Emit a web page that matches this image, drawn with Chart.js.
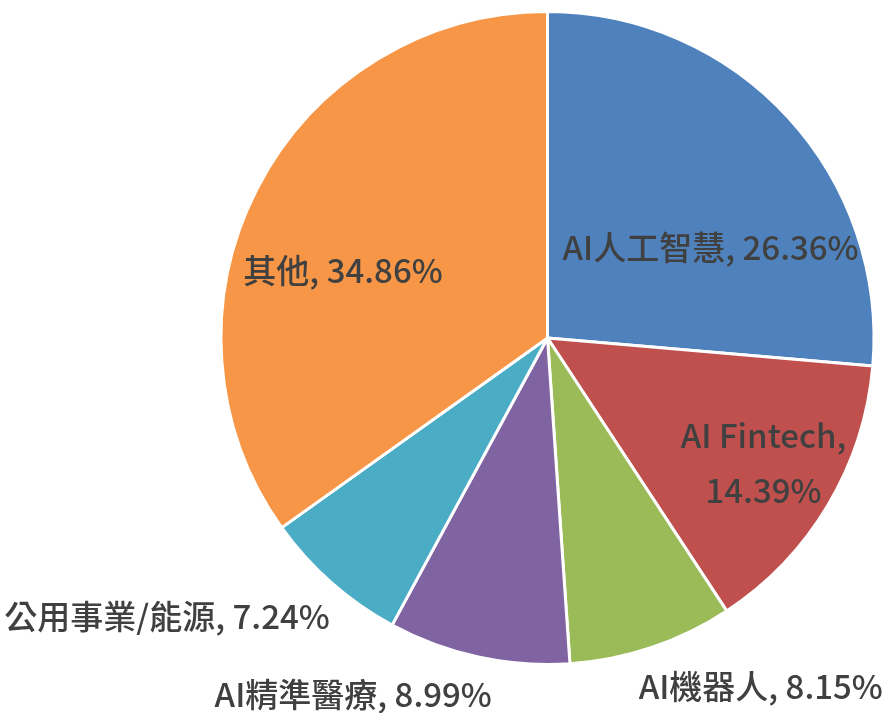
<!DOCTYPE html>
<html>
<head>
<meta charset="utf-8">
<script src="https://cdn.jsdelivr.net/npm/chart.js@4/dist/chart.umd.min.js"></script>
<style>
html,body{margin:0;padding:0;background:#fff;}
#wrap{width:884px;height:713px;}
</style>
</head>
<body>
<div id="wrap"><canvas id="c" width="884" height="713"></canvas></div>
<script>
const categories = ['AI人工智慧', 'AI Fintech', 'AI機器人', 'AI精準醫療', '公用事業/能源', '其他'];
const shares = [26.36, 14.39, 8.15, 8.99, 7.24, 34.86];
const colors = ['#4F81BD', '#C0504D', '#9BBB59', '#8064A2', '#4BACC6', '#F79646'];

// label placement: [angle from top in degrees (clockwise), distance as fraction of radius]
const labelPlacement = [[61, 0.571], [120, 0.764], [148.5, 1.25], [208.6, 1.243], [233.8, 1.444], [288.4, 0.66]];
const labelLines = [
  ['AI人工智慧, 26.36%'],
  ['AI Fintech,', '14.39%'],
  ['AI機器人, 8.15%'],
  ['AI精準醫療, 8.99%'],
  ['公用事業/能源, 7.24%'],
  ['其他, 34.86%']
];

const labelPlugin = {
  id: 'sliceLabels',
  afterDraw(chart) {
    const ctx = chart.ctx;
    const arcs = chart.getDatasetMeta(0).data;
    ctx.save();
    ctx.font = '500 33px "Noto Sans CJK TC", "Noto Sans", sans-serif';
    ctx.fillStyle = '#404040';
    ctx.textAlign = 'center';
    ctx.textBaseline = 'middle';
    arcs.forEach((arc, i) => {
      const [deg, frac] = labelPlacement[i];
      const a = (deg - 90) * Math.PI / 180;
      const r = arc.outerRadius * frac;
      const cx = arc.x + Math.cos(a) * r;
      const cy = arc.y + Math.sin(a) * r;
      const lines = labelLines[i];
      const lh = 55;
      lines.forEach((t, k) => {
        ctx.fillText(t, cx, cy + (k - (lines.length - 1) / 2) * lh);
      });
    });
    ctx.restore();
  }
};

new Chart(document.getElementById('c'), {
  type: 'pie',
  data: {
    labels: categories,
    datasets: [{
      data: shares,
      backgroundColor: colors,
      borderColor: '#ffffff',
      borderWidth: 3
    }]
  },
  options: {
    responsive: false,
    animation: false,
    layout: { padding: { left: 219, right: 8, top: 10, bottom: 47 } },
    plugins: {
      legend: { display: false },
      tooltip: { enabled: false }
    }
  },
  plugins: [labelPlugin]
});
</script>
</body>
</html>
